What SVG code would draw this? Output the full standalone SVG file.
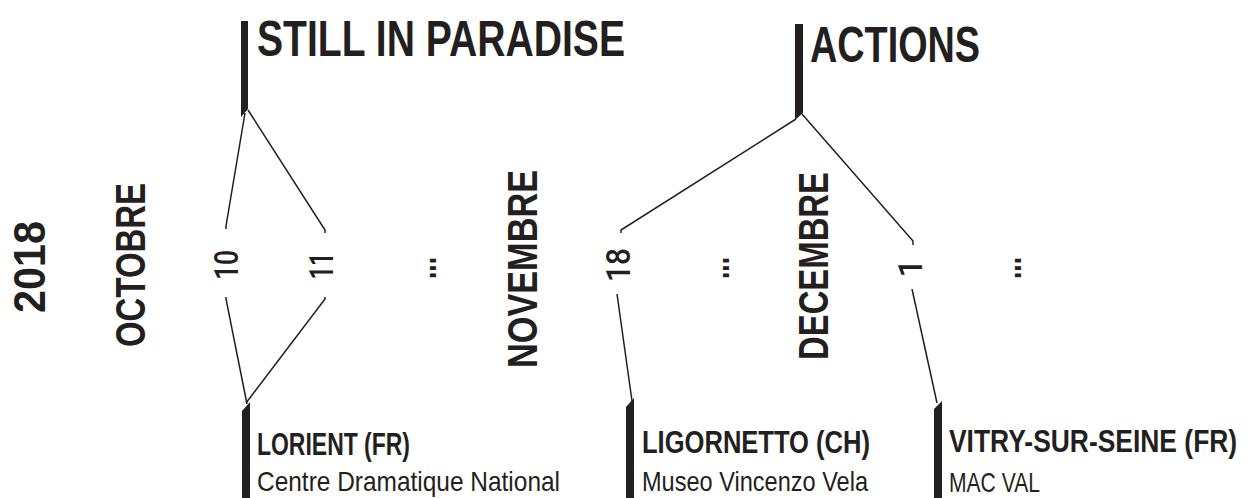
<svg xmlns="http://www.w3.org/2000/svg" width="1247" height="498" viewBox="0 0 1247 498">
<style>
text{font-family:"Liberation Sans","Roboto",Arial,sans-serif;fill:#231f20}
.b{font-weight:bold}
.t{font-size:50px}
.m{font-size:43px}
.d{font-size:33px;font-family:"Roboto","Liberation Sans",sans-serif;font-weight:500}
.dots{font-size:40px;font-weight:bold}
.h{font-size:31px}
.s{font-size:28px}
.bar{fill:#231f20}
.ln{fill:none;stroke:#231f20;stroke-width:1.5}
</style>
<rect width="1247" height="498" fill="#fff"/>
<g id="connectors">
<polyline class="ln" points="245,113 226,226 226,229"/>
<polyline class="ln" points="248,110 325,230 325,233"/>
<polyline class="ln" points="226,297 226,299 247,404"/>
<polyline class="ln" points="325,297 325,299 246,403"/>
<polyline class="ln" points="796,119 621,230 621,233"/>
<polyline class="ln" points="802,114 913,241 913,245"/>
<polyline class="ln" points="617,294 632,401"/>
<polyline class="ln" points="912,289 937,403"/>
</g>
<g id="node-still-in-paradise">
<polygon class="bar" points="241,21 248,21 248,109 241,117"/>
<text class="b t" x="257" y="56" textLength="368" lengthAdjust="spacingAndGlyphs">STILL IN PARADISE</text>
</g>
<g id="node-actions">
<polygon class="bar" points="795,24 803,24 803,113 795,120"/>
<text class="b t" x="810" y="62" textLength="170" lengthAdjust="spacingAndGlyphs">ACTIONS</text>
</g>
<g id="node-2018"><text class="b" font-size="45" text-anchor="middle" transform="translate(45,267) rotate(-90)" textLength="92" lengthAdjust="spacingAndGlyphs">2018</text></g>
<g id="node-octobre"><text class="b m" text-anchor="middle" transform="translate(145,265) rotate(-90)" textLength="164" lengthAdjust="spacingAndGlyphs">OCTOBRE</text></g>
<g id="node-10"><text class="d" text-anchor="middle" transform="translate(238,265) rotate(-90)" textLength="30" lengthAdjust="spacingAndGlyphs">10</text></g>
<g id="node-11"><text class="d" text-anchor="middle" transform="translate(333,266) rotate(-90)" textLength="27" lengthAdjust="spacingAndGlyphs">11</text></g>
<g id="node-dots-1"><text class="dots" text-anchor="middle" transform="translate(436,268) rotate(-90)" textLength="22" lengthAdjust="spacingAndGlyphs">...</text></g>
<g id="node-novembre"><text class="b m" text-anchor="middle" transform="translate(537,269) rotate(-90)" textLength="198" lengthAdjust="spacingAndGlyphs">NOVEMBRE</text></g>
<g id="node-18"><text class="d" text-anchor="middle" transform="translate(630,265) rotate(-90)" textLength="34" lengthAdjust="spacingAndGlyphs">18</text></g>
<g id="node-dots-2"><text class="dots" text-anchor="middle" transform="translate(729,268) rotate(-90)" textLength="22" lengthAdjust="spacingAndGlyphs">...</text></g>
<g id="node-decembre"><text class="b m" text-anchor="middle" transform="translate(828,266) rotate(-90)" textLength="188" lengthAdjust="spacingAndGlyphs">DECEMBRE</text></g>
<g id="node-1"><text class="d" text-anchor="middle" transform="translate(922,268) rotate(-90)">1</text></g>
<g id="node-dots-3"><text class="dots" text-anchor="middle" transform="translate(1021,268) rotate(-90)" textLength="22" lengthAdjust="spacingAndGlyphs">...</text></g>
<g id="node-lorient">
<polygon class="bar" points="242,411 250,402 250,498 242,498"/>
<text class="b h" x="257" y="455" textLength="153" lengthAdjust="spacingAndGlyphs">LORIENT (FR)</text>
<text class="s" x="257" y="491" textLength="303" lengthAdjust="spacingAndGlyphs">Centre Dramatique National</text>
</g>
<g id="node-ligornetto">
<polygon class="bar" points="626,407 634,398 634,498 626,498"/>
<text class="b h" x="642" y="453" textLength="228" lengthAdjust="spacingAndGlyphs">LIGORNETTO (CH)</text>
<text class="s" x="642" y="491" textLength="226" lengthAdjust="spacingAndGlyphs">Museo Vincenzo Vela</text>
</g>
<g id="node-vitry">
<polygon class="bar" points="934,409 942,401 942,498 934,498"/>
<text class="b h" transform="translate(949,452) scale(0.85,1)" x="0" y="0" textLength="339" lengthAdjust="spacingAndGlyphs">VITRY-SUR-SEINE (FR)</text>
<text class="s" x="949" y="492" textLength="91" lengthAdjust="spacingAndGlyphs">MAC VAL</text>
</g>
</svg>
